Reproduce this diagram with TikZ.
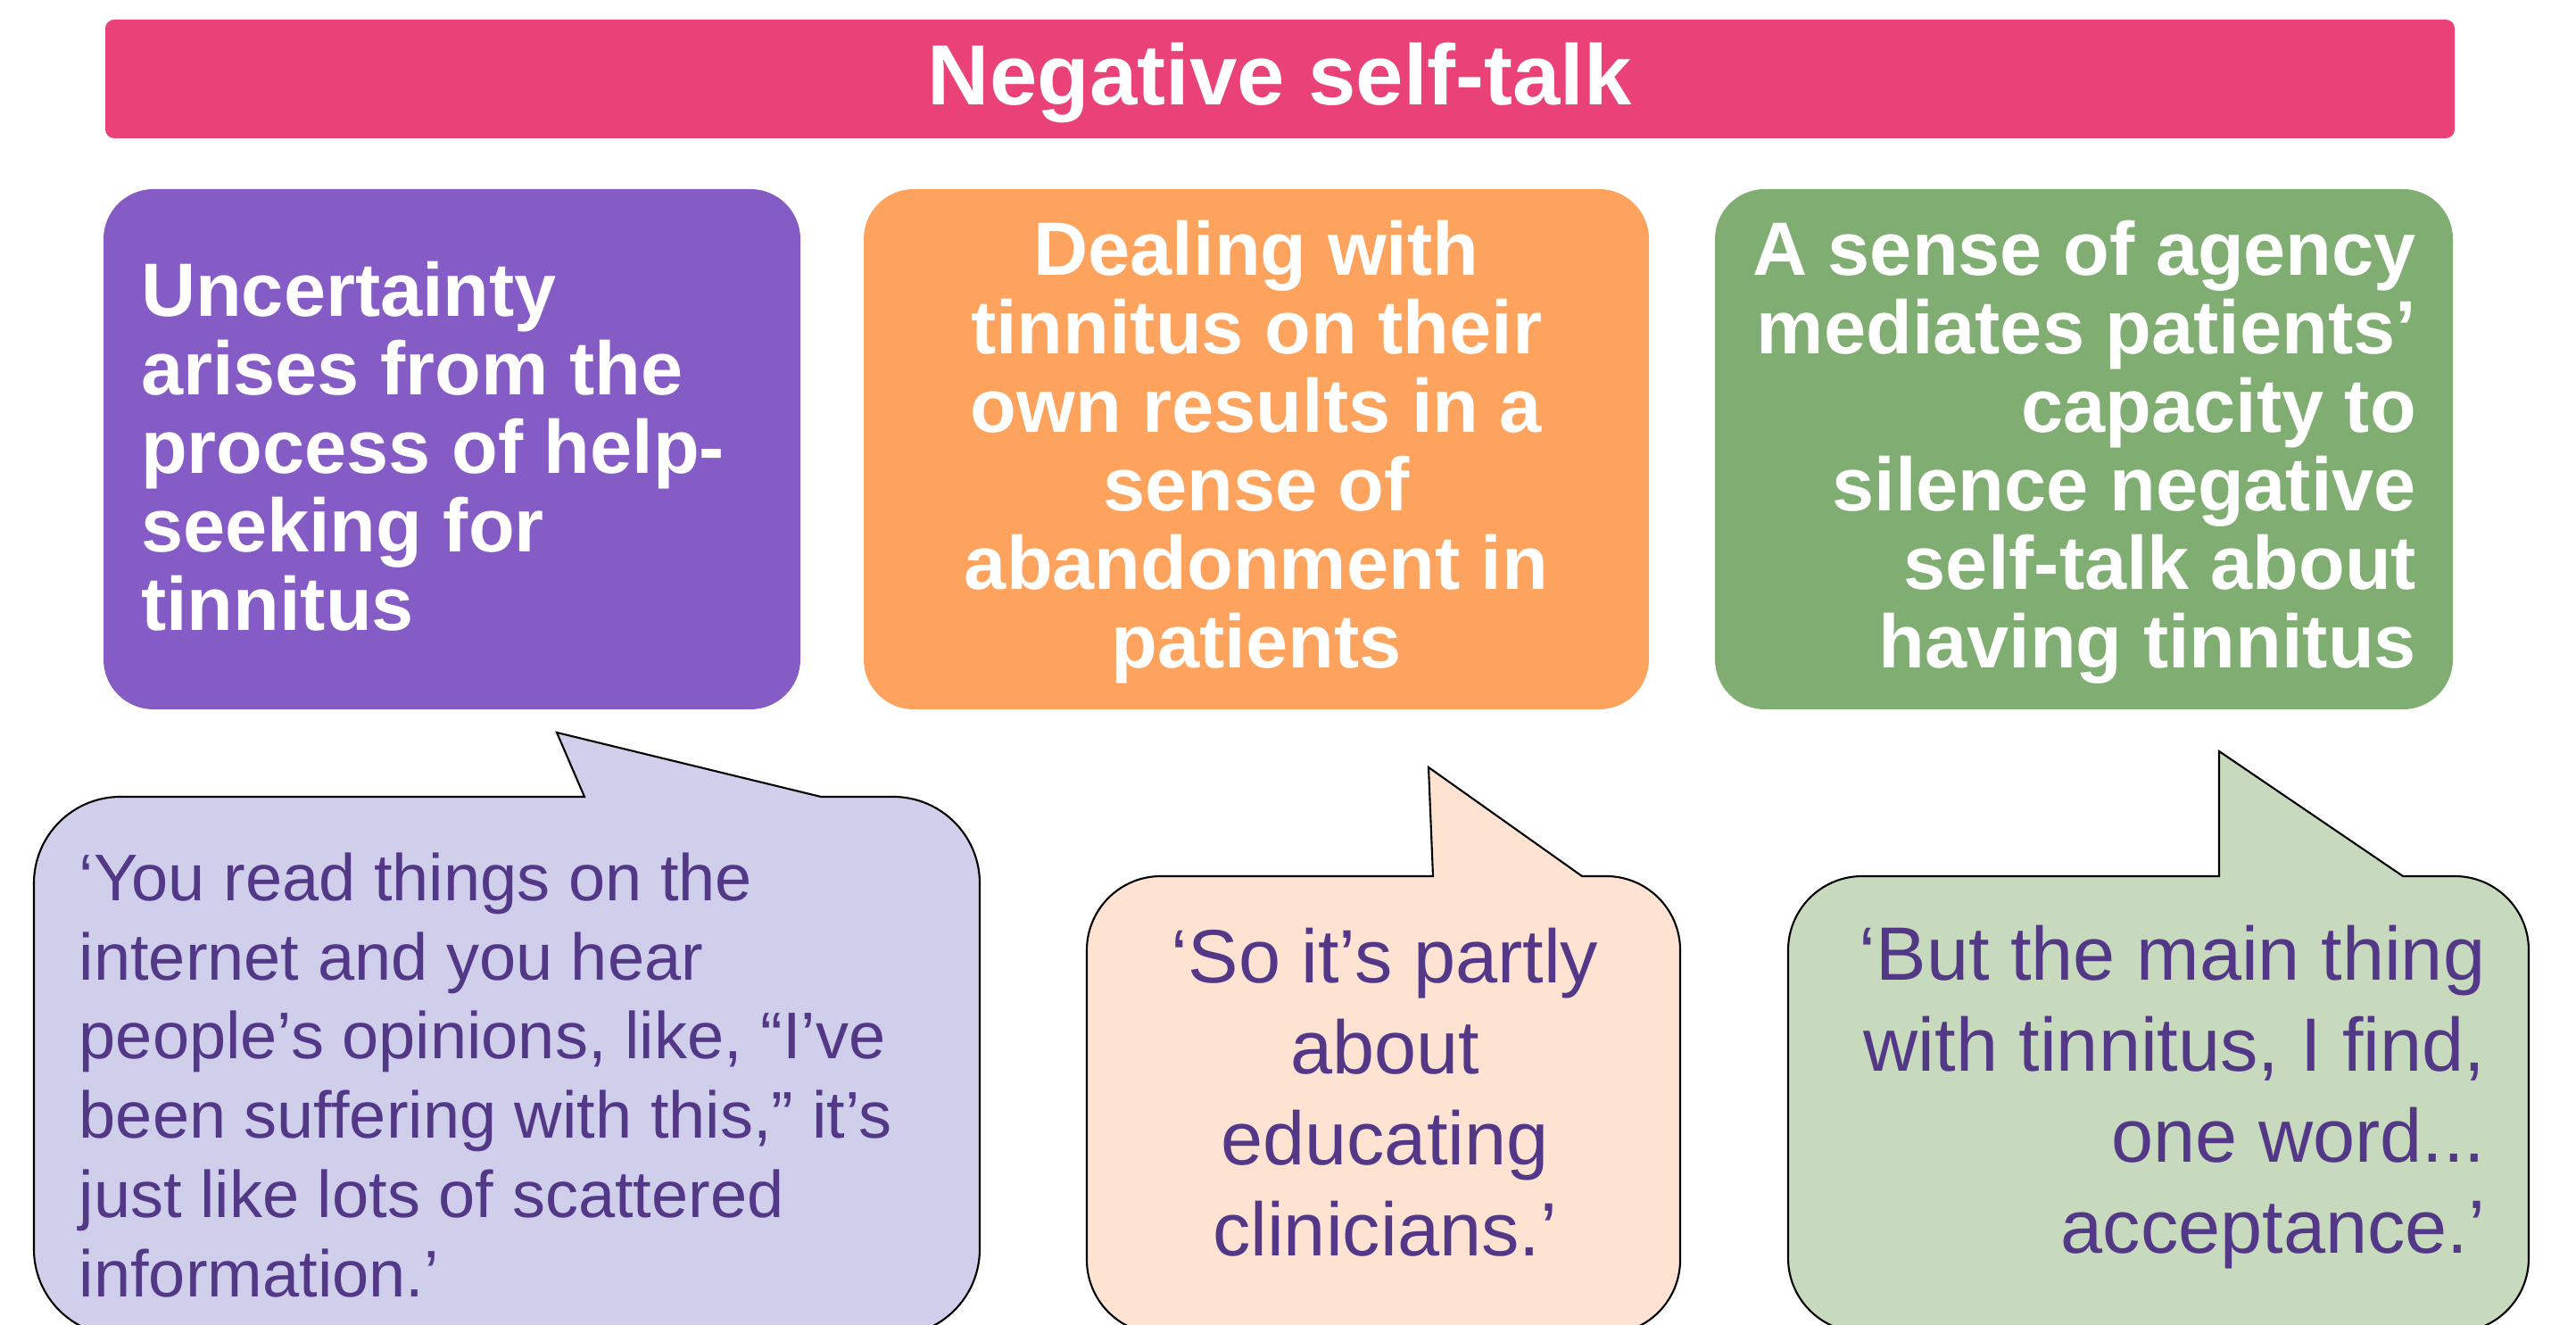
\documentclass[tikz,border=0pt]{standalone}
\usepackage{fontspec}
\setmainfont{Liberation Sans}
\usepackage{tikz}
\usetikzlibrary{positioning}

\definecolor{titlepink}{RGB}{234,66,119}
\definecolor{themepurple}{RGB}{133,92,198}
\definecolor{themeorange}{RGB}{253,163,94}
\definecolor{themegreen}{RGB}{128,173,114}
\definecolor{bubblelav}{RGB}{207,207,236}
\definecolor{bubblepeach}{RGB}{254,227,210}
\definecolor{bubblegreen}{RGB}{200,218,189}
\definecolor{quotetext}{RGB}{83,56,135}

\begin{document}
\begin{tikzpicture}[
    themebox/.style={rounded corners=0.56cm, minimum height=5.83cm, inner sep=0pt},
    themetext/.style={text=white, inner sep=0pt, font=\bfseries\fontsize{24.1}{25.05}\selectfont},
    bubble/.style={draw=black, line width=0.6pt},
    quote/.style={text=quotetext, inner sep=0pt, font=\fontsize{24.1}{29}\selectfont}
  ]
        \useasboundingbox (0,0) rectangle (28.87,14.85);
        \clip (0,0) rectangle (28.87,14.85);

        % heading bar
        \node[fill=titlepink, rounded corners=0.1cm, minimum width=26.33cm, minimum height=1.33cm] (title) at (14.345,13.965) {};
        \node[text=white, inner sep=0pt, font=\bfseries\fontsize{27.3}{32}\selectfont] (titletxt)
              at ([yshift=-0.04cm]title.center) {Negative self-talk};

        % the three themes
        \node[themebox, fill=themepurple, minimum width=7.81cm] (uncert) at (5.065,9.815) {};
        \node[themebox, fill=themeorange, minimum width=8.80cm] (abandon) at (14.08,9.815) {};
        \node[themebox, fill=themegreen, minimum width=8.27cm] (agency) at (23.355,9.815) {};

        \node[themetext, align=left, anchor=west] (uncerttxt) at ([xshift=0.42cm,yshift=0.03cm]uncert.west)
              {Uncertainty\\arises from the\\process of help-\\seeking for\\tinnitus};
        \node[themetext, align=center] (abandontxt) at ([yshift=-0.03cm]abandon.center)
              {Dealing with\\tinnitus on their\\own results in a\\sense of\\abandonment in\\patients};
        \node[themetext, align=right, anchor=east] (agencytxt) at ([xshift=-0.41cm,yshift=-0.03cm]agency.east)
              {A sense of agency\\mediates patients’\\capacity to\\silence negative\\self-talk about\\having tinnitus};

        % speech bubbles with their tails
        \draw[bubble, fill=bubblelav] (0.38,0.85) -- (0.38,4.95) arc[start angle=180, end angle=90, radius=0.97]
              -- (6.55,5.92) -- (6.24,6.64) -- (9.20,5.92) -- (10.01,5.92) arc[start angle=90, end angle=0, radius=0.97]
              -- (10.98,0.85) arc[start angle=0, end angle=-90, radius=0.97]
              -- (1.35,-0.12) arc[start angle=270, end angle=180, radius=0.97] -- cycle;
        \draw[bubble, fill=bubblepeach] (12.18,0.73) -- (12.18,4.20) arc[start angle=180, end angle=90, radius=0.83]
              -- (16.06,5.03) -- (16.01,6.25) -- (17.73,5.03) -- (18.00,5.03) arc[start angle=90, end angle=0, radius=0.83]
              -- (18.83,0.73) arc[start angle=0, end angle=-90, radius=0.83]
              -- (13.01,-0.10) arc[start angle=270, end angle=180, radius=0.83] -- cycle;
        \draw[bubble, fill=bubblegreen] (20.04,0.75) -- (20.04,4.20) arc[start angle=180, end angle=90, radius=0.83]
              -- (24.87,5.03) -- (24.87,6.43) -- (26.93,5.03) -- (27.51,5.03) arc[start angle=90, end angle=0, radius=0.83]
              -- (28.34,0.75) arc[start angle=0, end angle=-90, radius=0.83]
              -- (20.87,-0.08) arc[start angle=270, end angle=180, radius=0.83] -- cycle;

        % quotes
        \node[quote, align=left, anchor=west, font=\fontsize{21.06}{25.3}\selectfont] (quoteweb) at (0.88,2.80)
              {‘You read things on the\\internet and you hear\\people’s opinions, like, “I’ve\\been suffering with this,” it’s\\just like lots of scattered\\information.’};
        \node[quote, align=center] (quoteclin) at (15.52,2.61)
              {‘So it’s partly\\about\\educating\\clinicians.’};
        \node[quote, align=right, anchor=east] (quoteaccept) at (27.86,2.55)
              {‘But the main thing\\with tinnitus, I find,\\one word...\\acceptance.’};
      \end{tikzpicture}
\end{document}
